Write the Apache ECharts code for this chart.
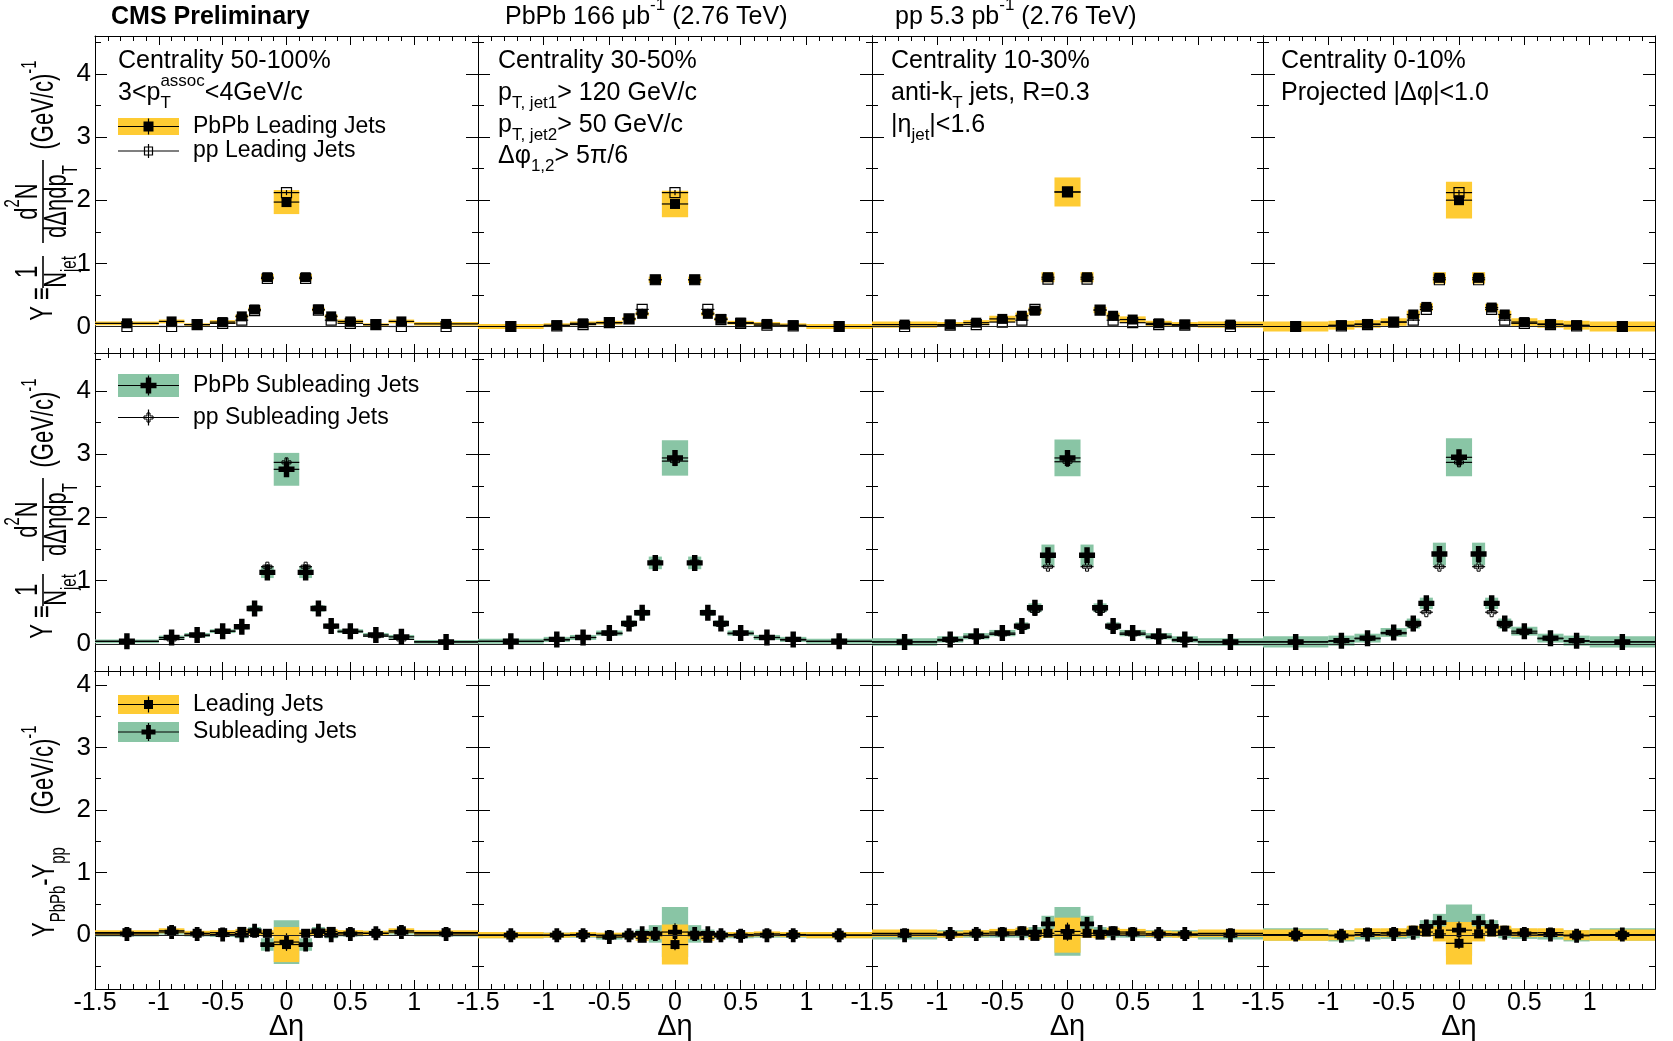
<!DOCTYPE html>
<html><head><meta charset="utf-8">
<script src="https://cdn.jsdelivr.net/npm/echarts@6/dist/echarts.min.js"></script>
<style>html,body{margin:0;padding:0;background:#fff}#c{width:1673px;height:1041px}</style>
</head><body><div id="c"></div>
<script>
// ---------------- DATA ----------------
const etaEdges = [-1.5,-1.0,-0.8,-0.6,-0.4,-0.3,-0.2,-0.1,0.1,0.2,0.3,0.4,0.6,0.8,1.0,1.5];
const centralityLabels = ['Centrality 50-100%','Centrality 30-50%','Centrality 10-30%','Centrality 0-10%'];
const xTickValues = [-1.5,-1,-0.5,0,0.5,1];
const xTickLabels = ['-1.5','-1','-0.5','0','0.5','1'];
const yTickValues = [0,1,2,3,4];
const yTickLabels = ['0','1','2','3','4'];
const yMinorTicks = [[0.5,1.5,2.5,3.5,4.5],[0.5,1.5,2.5,3.5,4.5],[-0.5,0.5,1.5,2.5,3.5]];

// Row 1: leading jets (50-100, 30-50, 10-30, 0-10)
const leadPbPb = [
 [0.05,0.08,0.03,0.07,0.16,0.27,0.78,1.97,0.78,0.27,0.16,0.08,0.03,0.08,0.04],
 [0.00,0.02,0.05,0.06,0.12,0.20,0.74,1.94,0.74,0.20,0.12,0.06,0.04,0.02,0.00],
 [0.03,0.03,0.06,0.12,0.17,0.25,0.78,2.13,0.78,0.26,0.17,0.11,0.05,0.03,0.03],
 [0.00,0.02,0.04,0.07,0.19,0.31,0.77,2.00,0.77,0.30,0.19,0.07,0.04,0.02,0.00]
];
const leadPP = [
 [0.00,0.00,0.03,0.05,0.10,0.25,0.76,2.12,0.76,0.26,0.10,0.05,0.03,0.00,0.00],
 [0.00,0.01,0.03,0.06,0.12,0.27,0.74,2.12,0.74,0.27,0.11,0.05,0.02,0.01,0.00],
 [0.00,0.02,0.03,0.07,0.10,0.27,0.75,2.13,0.75,0.26,0.10,0.06,0.03,0.02,0.00],
 [0.00,0.01,0.03,0.07,0.10,0.27,0.74,2.12,0.74,0.27,0.10,0.05,0.03,0.01,0.00]
];
const leadSyst = [
 [0.03,0.03,0.02,0.03,0.03,0.03,0.05,0.19,0.05,0.03,0.03,0.03,0.02,0.03,0.03],
 [0.04,0.03,0.03,0.03,0.03,0.03,0.05,0.21,0.05,0.03,0.03,0.03,0.03,0.03,0.04],
 [0.05,0.04,0.04,0.05,0.05,0.05,0.08,0.23,0.08,0.05,0.05,0.05,0.04,0.04,0.05],
 [0.08,0.07,0.06,0.06,0.06,0.06,0.09,0.29,0.09,0.06,0.06,0.06,0.06,0.07,0.08]
];
// Row 2: subleading jets
const subPbPb = [
 [0.04,0.10,0.14,0.20,0.27,0.56,1.13,2.76,1.13,0.56,0.28,0.20,0.14,0.11,0.03],
 [0.04,0.07,0.10,0.17,0.32,0.49,1.28,2.94,1.28,0.49,0.32,0.17,0.10,0.07,0.04],
 [0.03,0.07,0.12,0.17,0.28,0.57,1.40,2.94,1.40,0.57,0.28,0.17,0.12,0.07,0.03],
 [0.03,0.05,0.09,0.18,0.32,0.64,1.42,2.95,1.42,0.64,0.32,0.20,0.09,0.05,0.03]
];
const subPP = [
 [0.04,0.07,0.13,0.20,0.27,0.57,1.22,2.87,1.22,0.57,0.27,0.19,0.12,0.07,0.03],
 [0.04,0.06,0.10,0.16,0.30,0.50,1.30,2.89,1.30,0.50,0.30,0.16,0.10,0.06,0.04],
 [0.03,0.05,0.10,0.15,0.25,0.52,1.22,2.88,1.22,0.52,0.25,0.15,0.10,0.05,0.03],
 [0.03,0.04,0.08,0.16,0.28,0.50,1.22,2.87,1.22,0.50,0.28,0.17,0.08,0.04,0.03]
];
const subSyst = [
 [0.03,0.03,0.03,0.03,0.04,0.05,0.09,0.26,0.09,0.05,0.04,0.03,0.03,0.03,0.03],
 [0.04,0.04,0.04,0.04,0.05,0.05,0.10,0.28,0.10,0.05,0.05,0.04,0.04,0.04,0.04],
 [0.06,0.05,0.05,0.05,0.06,0.07,0.17,0.29,0.17,0.07,0.06,0.05,0.05,0.05,0.06],
 [0.09,0.08,0.07,0.07,0.08,0.09,0.18,0.30,0.18,0.09,0.08,0.07,0.07,0.08,0.09]
];
// Row 3: PbPb - pp
const diffLead = [
 [0.04,0.07,0.03,0.04,0.06,0.04,0.03,-0.15,0.03,0.03,0.06,0.04,0.03,0.07,0.04],
 [0.00,0.00,0.01,0.00,0.00,-0.05,0.00,-0.15,0.00,-0.05,0.00,0.01,0.02,0.01,0.00],
 [0.03,0.01,0.03,0.05,0.07,-0.02,0.03,0.00,0.03,0.00,0.07,0.05,0.02,0.01,0.03],
 [0.00,0.00,0.04,0.04,0.08,0.05,0.02,-0.13,0.02,0.05,0.08,0.04,0.04,0.00,0.00]
];
const diffLeadSyst = [
 [0.04,0.04,0.04,0.04,0.04,0.04,0.05,0.28,0.05,0.04,0.04,0.04,0.04,0.04,0.04],
 [0.05,0.04,0.04,0.04,0.04,0.04,0.06,0.32,0.06,0.04,0.04,0.04,0.04,0.04,0.05],
 [0.06,0.05,0.05,0.05,0.05,0.05,0.07,0.28,0.07,0.05,0.05,0.05,0.05,0.05,0.06],
 [0.09,0.08,0.07,0.07,0.07,0.07,0.12,0.34,0.12,0.07,0.07,0.07,0.07,0.08,0.09]
];
const diffSub = [
 [0.02,0.05,0.02,0.01,0.00,0.07,-0.15,-0.11,-0.15,0.07,0.00,0.02,0.03,0.05,0.02],
 [0.00,0.00,0.00,-0.03,0.00,0.03,0.02,0.05,0.02,0.03,0.00,-0.01,0.00,0.00,0.00],
 [0.00,0.02,0.02,0.02,0.03,0.05,0.18,0.06,0.18,0.05,0.03,0.02,0.02,0.02,0.00],
 [0.01,-0.01,0.01,0.02,0.04,0.14,0.20,0.08,0.20,0.14,0.04,0.02,0.01,-0.01,0.01]
];
const diffSubSyst = [
 [0.04,0.04,0.04,0.04,0.05,0.06,0.10,0.35,0.10,0.06,0.05,0.04,0.04,0.04,0.04],
 [0.05,0.04,0.04,0.04,0.05,0.06,0.14,0.40,0.14,0.06,0.05,0.04,0.04,0.04,0.05],
 [0.07,0.06,0.06,0.06,0.07,0.08,0.13,0.39,0.13,0.08,0.07,0.06,0.06,0.06,0.07],
 [0.10,0.09,0.08,0.08,0.09,0.10,0.14,0.41,0.14,0.10,0.09,0.08,0.08,0.09,0.10]
];
// statistical errors
const statLeadPbPb = [0.01,0.01,0.01,0.01,0.01,0.02,0.03,0.07,0.03,0.02,0.01,0.01,0.01,0.01,0.01];
const statLeadPP   = [0.01,0.01,0.01,0.01,0.01,0.01,0.02,0.04,0.02,0.01,0.01,0.01,0.01,0.01,0.01];
const statSubPbPb  = [0.02,0.02,0.02,0.02,0.03,0.04,0.06,0.12,0.06,0.04,0.03,0.02,0.02,0.02,0.02];
const statSubPP    = [0.01,0.01,0.01,0.01,0.02,0.02,0.04,0.07,0.04,0.02,0.02,0.01,0.01,0.01,0.01];
const statDiffLead = [0.04,0.04,0.04,0.04,0.05,0.05,0.05,0.09,0.05,0.05,0.05,0.04,0.04,0.04,0.04];
const statDiffSub  = [0.05,0.05,0.05,0.05,0.06,0.06,0.08,0.14,0.08,0.06,0.06,0.05,0.05,0.05,0.05];

// ---------------- LAYOUT / STYLE ----------------
const FONT = '"Liberation Sans", Arial, Helvetica, sans-serif';
const ORANGE = '#fecb33', GREEN = '#89c5a5';
const colLeft = [95, 478, 872, 1263], colWidth = [383, 394, 391, 392];
const rowTop = [36, 353, 671], rowHeight = [317, 318, 318];
const yRange = [[-0.42, 4.6], [-0.43, 4.6], [-0.86, 4.22]];

function bins(vals, errs) {
  return vals.map((v, i) => [(etaEdges[i] + etaEdges[i+1]) / 2, v, etaEdges[i], etaEdges[i+1], errs[i]]);
}
function boxRender(color) {
  return (params, api) => {
    const a = api.coord([api.value(2), api.value(1) + api.value(4)]);
    const b = api.coord([api.value(3), api.value(1) - api.value(4)]);
    return {type: 'rect', shape: {x: a[0], y: a[1], width: b[0] - a[0], height: b[1] - a[1]}, style: {fill: color}};
  };
}
function markerShape(kind, cx, cy, s) {
  const h = s / 2;
  if (kind === 'sq') return {type: 'rect', shape: {x: cx - h, y: cy - h, width: s, height: s}, style: {fill: '#000'}};
  if (kind === 'osq') return {type: 'rect', shape: {x: cx - h, y: cy - h, width: s, height: s}, style: {fill: 'none', stroke: '#000', lineWidth: 1.2}};
  const t = s * 0.17;
  const pts = [[-t,-h],[t,-h],[t,-t],[h,-t],[h,t],[t,t],[t,h],[-t,h],[-t,t],[-h,t],[-h,-t],[-t,-t]].map(p => [cx + p[0], cy + p[1]]);
  if (kind === 'cross') return {type: 'polygon', shape: {points: pts}, style: {fill: '#000'}};
  return {type: 'polygon', shape: {points: pts}, style: {fill: 'none', stroke: '#000', lineWidth: 1}};
}
function pointRender(kind, size) {
  return (params, api) => {
    const p = api.coord([api.value(0), api.value(1)]);
    const l = api.coord([api.value(2), api.value(1)]);
    const r = api.coord([api.value(3), api.value(1)]);
    const t = api.coord([api.value(0), api.value(1) + api.value(4)]);
    const b = api.coord([api.value(0), api.value(1) - api.value(4)]);
    const ls = {stroke: '#000', lineWidth: 1.2};
    return {type: 'group', children: [
      {type: 'line', shape: {x1: l[0], y1: p[1], x2: r[0], y2: p[1]}, style: ls},
      {type: 'line', shape: {x1: p[0], y1: t[1], x2: p[0], y2: b[1]}, style: ls},
      markerShape(kind, p[0], p[1], size)
    ]};
  };
}

// text with sub/superscripts: kind 0 normal, 1 sub, 2 sup, 3 sup stacked over previous sub
const mctx = document.createElement('canvas').getContext('2d');
function tw(s, size, bold) { mctx.font = (bold ? 'bold ' : '') + size + 'px ' + FONT; return mctx.measureText(s).width; }
function tex(parts, x, y, size, opt) {
  opt = opt || {};
  const bold = !!opt.bold;
  const items = []; let cx = 0, lastStart = 0;
  for (const [s, k] of parts) {
    const fs = k ? size * 0.68 : size;
    const dy = k === 1 ? size * 0.42 : (k >= 2 ? -size * 0.45 : 0);
    const sx = k === 3 ? lastStart : cx;
    const w = tw(s, fs, bold);
    items.push({s, fs, dy, sx});
    if (k === 3) cx = Math.max(cx, sx + w); else { lastStart = sx; cx = sx + w; }
  }
  const x0 = opt.align === 'center' ? x - cx / 2 : x;
  return items.map(it => ({type: 'text', silent: true, z: 100, x: x0 + it.sx, y: y + it.dy,
    style: {text: it.s, fontSize: it.fs, fontFamily: FONT, fontWeight: bold ? 'bold' : 'normal', fill: '#000',
      align: 'left', verticalAlign: 'middle', textAlign: 'left', textVerticalAlign: 'middle'}}));
}

// ---------------- AXES / GRIDS / SERIES ----------------
const grids = [], xAxes = [], yAxes = [], series = [];
for (let r = 0; r < 3; r++) for (let c = 0; c < 4; c++) {
  const g = r * 4 + c;
  grids.push({left: colLeft[c], top: rowTop[r], width: colWidth[c], height: rowHeight[r], containLabel: false, outerBoundsMode: 'none'});
  for (const pos of ['bottom', 'top']) {
    const lab = pos === 'bottom' && r === 2;
    xAxes.push({type: 'value', gridIndex: g, position: pos, min: -1.5, max: 1.5, interval: 0.5,
      axisLine: {show: true, onZero: false, lineStyle: {color: '#000', width: 1}},
      axisTick: {show: true, inside: true, length: 9, lineStyle: {color: '#000', width: 1}},
      minorTick: {show: true, splitNumber: 5, length: 5, lineStyle: {color: '#000', width: 1}},
      splitLine: {show: false}, minorSplitLine: {show: false},
      axisLabel: {show: lab, showMinLabel: true, showMaxLabel: false, margin: 2, color: '#000', fontSize: 25, fontFamily: FONT,
        formatter: v => { const i = xTickValues.indexOf(+(+v).toFixed(2)); return i >= 0 ? xTickLabels[i] : ''; }},
      name: lab ? '\u0394\u03b7' : '', nameLocation: 'middle', nameGap: 23, nameMoveOverlap: false,
      nameTextStyle: {color: '#000', fontSize: 29, fontFamily: FONT}
    });
  }
  for (const pos of ['left', 'right']) {
    for (const major of [true, false]) {
      const lab = pos === 'left' && major && c === 0;
      yAxes.push({type: 'value', gridIndex: g, position: pos, min: yRange[r][0], max: yRange[r][1],
        axisLine: {show: major, onZero: false, lineStyle: {color: '#000', width: 1}},
        axisTick: {show: true, inside: true, length: major ? 12 : 6, customValues: major ? yTickValues : yMinorTicks[r], lineStyle: {color: '#000', width: 1}},
        minorTick: {show: false}, splitLine: {show: false},
        axisLabel: {show: lab, customValues: yTickValues, margin: 4, color: '#000', fontSize: 26, fontFamily: FONT,
          formatter: v => { const i = yTickValues.indexOf(Math.round(v)); return i >= 0 ? yTickLabels[i] : ''; }}
      });
    }
  }
  const base = {xAxisIndex: 2 * g, yAxisIndex: 4 * g, silent: true, animation: false, clip: true};
  series.push({type: 'line', ...base, data: [], z: 3,
    markLine: {silent: true, symbol: ['none', 'none'], label: {show: false}, animation: false,
      lineStyle: {color: '#222', width: 1, type: 'solid'}, data: [{yAxis: 0}]}});
  if (r === 0) {
    series.push({type: 'custom', ...base, z: 1, renderItem: boxRender(ORANGE), data: bins(leadPbPb[c], leadSyst[c])});
    series.push({type: 'custom', ...base, z: 4, renderItem: pointRender('osq', 10), data: bins(leadPP[c], statLeadPP)});
    series.push({type: 'custom', ...base, z: 5, renderItem: pointRender('sq', 10), data: bins(leadPbPb[c], statLeadPbPb)});
  } else if (r === 1) {
    series.push({type: 'custom', ...base, z: 1, renderItem: boxRender(GREEN), data: bins(subPbPb[c], subSyst[c])});
    series.push({type: 'custom', ...base, z: 4, renderItem: pointRender('ocross', 9), data: bins(subPP[c], statSubPP)});
    series.push({type: 'custom', ...base, z: 5, renderItem: pointRender('cross', 16), data: bins(subPbPb[c], statSubPbPb)});
  } else {
    series.push({type: 'custom', ...base, z: 1, renderItem: boxRender(GREEN), data: bins(diffSub[c], diffSubSyst[c])});
    series.push({type: 'custom', ...base, z: 2, renderItem: boxRender(ORANGE), data: bins(diffLead[c], diffLeadSyst[c])});
    series.push({type: 'custom', ...base, z: 4, renderItem: pointRender('cross', 14), data: bins(diffSub[c], statDiffSub)});
    series.push({type: 'custom', ...base, z: 5, renderItem: pointRender('sq', 9), data: bins(diffLead[c], statDiffLead)});
  }
}

// ---------------- TEXT / LEGENDS ----------------
const els = [];
const TS = 25;
els.push(...tex([['CMS Preliminary', 0]], 111, 17, TS, {bold: true}));
els.push(...tex([['PbPb 166 \u03bcb', 0], ['-1', 2], [' (2.76 TeV)', 0]], 505, 17, TS));
els.push(...tex([['pp 5.3 pb', 0], ['-1', 2], [' (2.76 TeV)', 0]], 895, 17, TS));

const tx = [118, 498, 891, 1281];
const ty = [61, 93, 125, 156];
centralityLabels.forEach((s, i) => els.push(...tex([[s, 0]], tx[i], ty[0], TS)));
els.push(...tex([['3<p', 0], ['T', 1], ['assoc', 3], ['<4GeV/c', 0]], tx[0], ty[1], TS));
els.push(...tex([['p', 0], ['T, jet1', 1], ['> 120 GeV/c', 0]], tx[1], ty[1], TS));
els.push(...tex([['p', 0], ['T, jet2', 1], ['> 50 GeV/c', 0]], tx[1], ty[2], TS));
els.push(...tex([['\u0394\u03c6', 0], ['1,2', 1], ['> 5\u03c0/6', 0]], tx[1], ty[3], TS));
els.push(...tex([['anti-k', 0], ['T', 1], [' jets, R=0.3', 0]], tx[2], ty[1], TS));
els.push(...tex([['|\u03b7', 0], ['jet', 1], ['|<1.6', 0]], tx[2], ty[2], TS));
els.push(...tex([['Projected |\u0394\u03c6|<1.0', 0]], tx[3], ty[1], TS));

function legendEntry(y, boxColor, boxH, kind, size, barH, label) {
  if (boxColor) els.push({type: 'rect', z: 90, shape: {x: 118, y: y - boxH / 2, width: 61, height: boxH}, style: {fill: boxColor}});
  els.push({type: 'line', z: 91, shape: {x1: 118, y1: y, x2: 179, y2: y}, style: {stroke: '#000', lineWidth: 1.2}});
  els.push({type: 'line', z: 91, shape: {x1: 148.5, y1: y - barH, x2: 148.5, y2: y + barH}, style: {stroke: '#000', lineWidth: 1.2}});
  const m = markerShape(kind, 148.5, y, size); m.z = 92; els.push(m);
  els.push(...tex([[label, 0]], 193, y, 23));
}
legendEntry(126.5, ORANGE, 17, 'sq', 10, 8, 'PbPb Leading Jets');
legendEntry(151, null, 0, 'osq', 8, 7, 'pp Leading Jets');
legendEntry(385.5, GREEN, 23, 'cross', 16, 10, 'PbPb Subleading Jets');
legendEntry(417.5, null, 0, 'ocross', 9, 8, 'pp Subleading Jets');
legendEntry(704.5, ORANGE, 19, 'sq', 9, 8, 'Leading Jets');
legendEntry(732, GREEN, 20, 'cross', 14, 9, 'Subleading Jets');

// rotated y titles; scaleY widens glyphs across the screen x direction
const TSC = 1.45;
function yTitleYield(yb) {
  const S = 22, ch = [];
  ch.push(...tex([['Y \u2261', 0]], 16, 0, S, {align: 'center'}));
  ch.push({type: 'line', shape: {x1: 32, y1: 0, x2: 64, y2: 0}, style: {stroke: '#000', lineWidth: 1.1}});
  ch.push(...tex([['1', 0]], 48, -10.5, S, {align: 'center'}));
  ch.push(...tex([['N', 0], ['jet', 1]], 48, 9.5, S, {align: 'center'}));
  ch.push({type: 'line', shape: {x1: 77, y1: 0, x2: 160, y2: 0}, style: {stroke: '#000', lineWidth: 1.1}});
  ch.push(...tex([['d', 0], ['2', 2], ['N', 0]], 118.5, -10.5, S, {align: 'center'}));
  ch.push(...tex([['d\u0394\u03b7dp', 0], ['T', 1]], 118.5, 10, S, {align: 'center'}));
  ch.push(...tex([['(GeV/c)', 0], ['-1', 2]], 215, 1, S, {align: 'center'}));
  return {type: 'group', x: 43, y: yb, rotation: Math.PI / 2, scaleY: TSC, silent: true, children: ch};
}
els.push(yTitleYield(320));
els.push(yTitleYield(638));
(function () {
  const S = 22, ch = [];
  ch.push(...tex([['Y', 0], ['PbPb', 1], ['-Y', 0], ['pp', 1]], 2, 1.5, S));
  ch.push(...tex([['(GeV/c)', 0], ['-1', 2]], 169, 1, S, {align: 'center'}));
  els.push({type: 'group', x: 43, y: 939, rotation: Math.PI / 2, scaleY: TSC, silent: true, children: ch});
})();

const chart = echarts.init(document.getElementById('c'), null, {renderer: 'canvas'});
chart.setOption({
  animation: false,
  backgroundColor: '#fff',
  textStyle: {fontFamily: FONT},
  grid: grids, xAxis: xAxes, yAxis: yAxes, series: series,
  graphic: {elements: els}
});
</script></body></html>
